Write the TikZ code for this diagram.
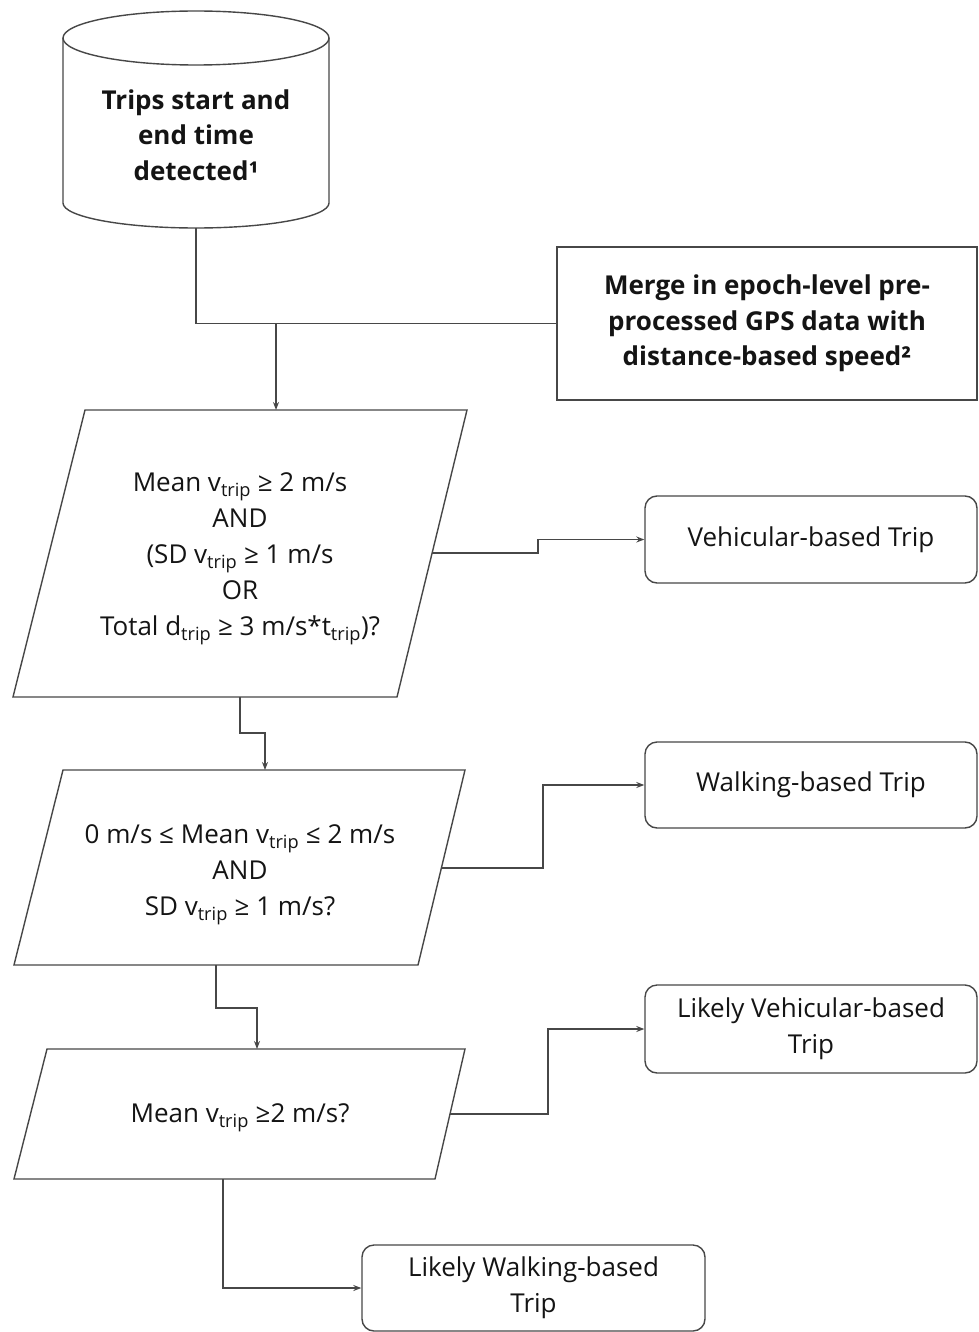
\documentclass[tikz,border=0pt]{standalone}
\usepackage{fontspec}
\setmainfont{Open Sans}
\usetikzlibrary{arrows.meta,calc}
\begin{document}
\begin{tikzpicture}[x=1pt,y=-1pt,
  line/.style={draw=black!72, line width=1.4pt},
  conn/.style={draw=black!72, line width=1.3pt},
  arr/.style={conn,-{Stealth[length=8pt,width=6pt]}},
  txt/.style={align=center, font=\fontsize{26}{36}\selectfont, text=black!92, inner sep=0pt},
  btxt/.style={align=center, font=\fontsize{26}{35.5}\selectfont\bfseries, text=black!92, inner sep=0pt},
  rbox/.style={line, txt, rounded corners=12pt, minimum width=332pt}
]
\useasboundingbox[fill=white] (0,0) rectangle (978,1332);

% cylinder
\draw[line] (63,38) -- (63,203) .. controls (63,216.8) and (122.5,228) .. (196,228)
  .. controls (269.5,228) and (329,216.8) .. (329,203) -- (329,38);
\draw[line] (196,38) ellipse [x radius=133, y radius=27];
\coordinate (cylb) at (196,228);
\node[btxt] (cyl) at (196,135) {Trips start and\\end time\\detected¹};

% merge box
\node[line, btxt, minimum width=420pt, minimum height=153pt] (merge) at (767,323.5)
  {Merge in epoch-level pre-\\processed GPS data with\\distance-based speed²};

% parallelogram 1
\coordinate (p1a) at (85,410);
\coordinate (p1b) at (467,410);
\coordinate (p1c) at (397,697);
\coordinate (p1d) at (13,697);
\draw[line] (p1a) -- (p1b) -- (p1c) -- (p1d) -- cycle;
\node[txt] (p1t) at (240,559) {Mean v\textsubscript{trip} ≥ 2 m/s\\AND\\(SD v\textsubscript{trip} ≥ 1 m/s\\OR\\Total d\textsubscript{trip} ≥ 3 m/s*t\textsubscript{trip})?};

% parallelogram 2
\coordinate (p2a) at (63,770);
\coordinate (p2b) at (465,770);
\coordinate (p2c) at (418,965);
\coordinate (p2d) at (14,965);
\draw[line] (p2a) -- (p2b) -- (p2c) -- (p2d) -- cycle;
\node[txt] (p2t) at (240,875) {0 m/s ≤ Mean v\textsubscript{trip} ≤ 2 m/s\\AND\\SD v\textsubscript{trip} ≥ 1 m/s?};

% parallelogram 3
\coordinate (p3a) at (47,1049);
\coordinate (p3b) at (465,1049);
\coordinate (p3c) at (435,1179);
\coordinate (p3d) at (14,1179);
\draw[line] (p3a) -- (p3b) -- (p3c) -- (p3d) -- cycle;
\node[txt] (p3t) at (240,1118) {Mean v\textsubscript{trip} ≥2 m/s?};

% result boxes
\node[rbox, minimum height=87pt] (veh) at (811,539.5) {Vehicular-based Trip};
\node[rbox, minimum height=86pt] (walk) at (811,785) {Walking-based Trip};
\node[rbox, minimum height=88pt] (lveh) at (811,1029) {Likely Vehicular-based\\Trip};
\node[rbox, minimum width=343pt, minimum height=86pt] (lwalk) at (533.5,1288) {Likely Walking-based\\Trip};

% connectors
\coordinate (j1) at (276,323.5);
\coordinate (p1in) at (276,410);
\draw[conn] (cylb) |- (j1);
\draw[conn] (merge.west) -- (j1);
\draw[arr] (j1) -- (p1in);

\coordinate (p1r) at (432,553);
\draw[arr] (p1r) -- ++(106,0) |- (veh.west);
\coordinate (p1o) at (240,697);
\coordinate (p2in) at (265,770);
\draw[arr] (p1o) -- ++(0,36) -| (p2in);

\coordinate (p2r) at (441,868);
\draw[arr] (p2r) -- ++(102,0) |- (walk.west);
\coordinate (p2o) at (216,965);
\coordinate (p3in) at (257,1049);
\draw[arr] (p2o) -- ++(0,43) -| (p3in);

\coordinate (p3r) at (450,1114);
\draw[arr] (p3r) -- ++(98,0) |- (lveh.west);
\coordinate (p3o) at (223,1179);
\draw[arr] (p3o) |- (lwalk.west);
\end{tikzpicture}
\end{document}
